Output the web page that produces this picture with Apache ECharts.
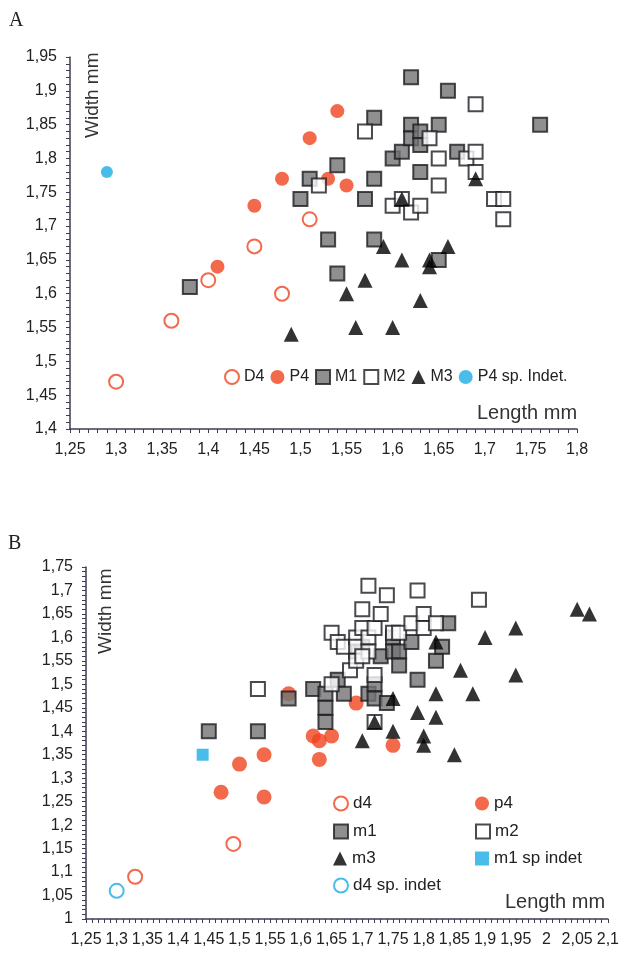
<!DOCTYPE html>
<html>
<head>
<meta charset="utf-8">
<script src="https://cdn.jsdelivr.net/npm/echarts@6/dist/echarts.min.js"></script>
<style>
html, body { margin: 0; padding: 0; background: #fff; }
#chart { width: 622px; height: 956px; }
</style>
</head>
<body>
<div id="chart"></div>
<script>
// panel A: [length, width]
const aD4 = [[1.30, 1.47], [1.36, 1.56], [1.40, 1.62], [1.45, 1.67], [1.48, 1.60], [1.51, 1.71]]
const aP4 = [[1.41, 1.64], [1.45, 1.73], [1.48, 1.77], [1.51, 1.83], [1.53, 1.77], [1.54, 1.87], [1.55, 1.76]]
const aM1 = [[1.38, 1.61], [1.50, 1.74], [1.51, 1.77], [1.53, 1.68], [1.54, 1.79], [1.54, 1.63], [1.57, 1.74],
  [1.58, 1.86], [1.58, 1.77], [1.58, 1.68], [1.60, 1.80], [1.61, 1.81], [1.62, 1.92], [1.62, 1.85], [1.62, 1.83],
  [1.63, 1.84], [1.63, 1.82], [1.63, 1.78], [1.65, 1.85], [1.65, 1.65], [1.66, 1.90], [1.67, 1.81], [1.76, 1.85]]
const aM2 = [[1.52, 1.76], [1.57, 1.84], [1.60, 1.73], [1.61, 1.74], [1.62, 1.72], [1.63, 1.73], [1.64, 1.83],
  [1.65, 1.80], [1.65, 1.76], [1.68, 1.80], [1.69, 1.88], [1.69, 1.81], [1.69, 1.78], [1.71, 1.74], [1.72, 1.74], [1.72, 1.71]]
const aM3 = [[1.49, 1.54], [1.55, 1.60], [1.56, 1.55], [1.57, 1.62], [1.59, 1.67], [1.60, 1.55], [1.61, 1.74],
  [1.61, 1.65], [1.63, 1.59], [1.64, 1.65], [1.64, 1.64], [1.66, 1.67], [1.69, 1.77]]
const aP4Indet = [[1.29, 1.78]]

// panel B
const bD4 = [[1.33, 1.09], [1.49, 1.16]]
const bP4 = [[1.47, 1.27], [1.50, 1.33], [1.54, 1.35], [1.54, 1.26], [1.58, 1.48], [1.62, 1.39], [1.63, 1.38],
  [1.65, 1.39], [1.63, 1.34], [1.69, 1.46], [1.75, 1.37]]
const bM1 = [[1.45, 1.40], [1.53, 1.40], [1.58, 1.47], [1.62, 1.49], [1.64, 1.48], [1.64, 1.45], [1.64, 1.42],
  [1.66, 1.51], [1.67, 1.48], [1.69, 1.57], [1.70, 1.58], [1.71, 1.48], [1.72, 1.50], [1.72, 1.47], [1.73, 1.56],
  [1.74, 1.46], [1.75, 1.60], [1.75, 1.57], [1.76, 1.57], [1.76, 1.54], [1.78, 1.59], [1.79, 1.51], [1.82, 1.55],
  [1.83, 1.58], [1.84, 1.63]]
const bM2 = [[1.53, 1.49], [1.65, 1.50], [1.68, 1.53], [1.72, 1.52], [1.72, 1.42], [1.65, 1.61], [1.66, 1.59],
  [1.67, 1.58], [1.69, 1.60], [1.69, 1.58], [1.69, 1.55], [1.70, 1.62], [1.70, 1.66], [1.71, 1.71], [1.71, 1.60],
  [1.71, 1.57], [1.70, 1.56], [1.72, 1.62], [1.73, 1.65], [1.74, 1.69], [1.75, 1.61], [1.76, 1.61], [1.78, 1.63],
  [1.79, 1.70], [1.80, 1.65], [1.80, 1.62], [1.82, 1.63], [1.89, 1.68]]
const bM3 = [[1.70, 1.38], [1.72, 1.42], [1.75, 1.47], [1.75, 1.40], [1.79, 1.44], [1.80, 1.39], [1.80, 1.37],
  [1.82, 1.48], [1.82, 1.43], [1.82, 1.59], [1.85, 1.35], [1.86, 1.53], [1.88, 1.48], [1.90, 1.60], [1.95, 1.62],
  [1.95, 1.52], [2.05, 1.66], [2.07, 1.65]]
const bM1Indet = [[1.44, 1.35]]
const bD4Indet = [[1.30, 1.06]]

const RED = '#f0431f'
const CYAN = '#1cade4'
const GREY = '#737373'
const EDGE = '#1b1b22'
const AXIS = '#3c3c52'
const FONT = '"Liberation Sans Narrow", "Arial Narrow", "Liberation Sans", Arial, sans-serif'

const fmt = v => String(+v.toFixed(2)).replace('.', ',')

function valueAxis(gridIndex, min, max) {
  return {
    type: 'value',
    gridIndex: gridIndex,
    min: min,
    max: max,
    interval: 0.05,
    splitLine: { show: false },
    axisLine: { show: true, onZero: false, lineStyle: { color: AXIS, width: 1.5 } },
    axisTick: { show: true, length: 4, lineStyle: { color: AXIS } },
    minorTick: { show: true, splitNumber: 5, length: 4, lineStyle: { color: AXIS } },
    axisLabel: { color: '#222', fontSize: 16, fontFamily: FONT, margin: 13, formatter: fmt }
  }
}

function points(name, data, xi, symbol, size, style) {
  return {
    name: name,
    type: 'scatter',
    xAxisIndex: xi,
    yAxisIndex: xi,
    symbol: symbol,
    symbolSize: size,
    itemStyle: style,
    data: data
  }
}

const openRed = { color: '#fff', borderColor: RED, borderWidth: 2 }
const fillRed = { color: RED }
const greySq = { color: GREY, borderColor: EDGE, borderWidth: 2 }
const openSq = { color: '#fff', borderColor: EDGE, borderWidth: 2 }
const tri = { color: '#000' }

const legText = { fontSize: 17, fontFamily: FONT, color: '#222' }
function bLegend(name, left, top) {
  return {
    data: [name], left: left, top: top, itemWidth: 14, itemHeight: 14, padding: 0,
    itemGap: 4, textStyle: legText, selectedMode: false
  }
}

const chart = echarts.init(document.getElementById('chart'))
chart.setOption({
  animation: false,
  backgroundColor: '#fff',
  grid: [
    { left: 70, top: 57, right: 45, bottom: 527 },
    { left: 86, top: 567, right: 11, bottom: 37 }
  ],
  xAxis: [valueAxis(0, 1.25, 1.8), valueAxis(1, 1.25, 2.1)],
  yAxis: [valueAxis(0, 1.4, 1.95), valueAxis(1, 1, 1.75)],
  legend: [
    {
      data: ['D4', 'P4', 'M1', 'M2', 'M3', 'P4 sp. Indet.'],
      left: 224, top: 369, itemWidth: 14, itemHeight: 14, itemGap: 6, padding: 0,
      textStyle: { fontSize: 16, fontFamily: FONT, color: '#222' }, selectedMode: false
    },
    bLegend('d4', 333, 795),
    bLegend('p4', 475, 795),
    bLegend('m1', 333, 823),
    bLegend('m2', 475, 823),
    bLegend('m3', 333, 850),
    bLegend('m1 sp indet', 475, 850),
    bLegend('d4 sp. indet', 333, 877)
  ],
  graphic: [
    { type: 'text', left: 9, top: 11, style: { text: 'A', fontSize: 20, fontFamily: '"Liberation Serif", serif', fill: '#222' } },
    { type: 'text', left: 8, top: 534, style: { text: 'B', fontSize: 20, fontFamily: '"Liberation Serif", serif', fill: '#222' } },
    { type: 'text', x: 83, y: 138, rotation: Math.PI / 2, style: { text: 'Width mm', fontSize: 19, fontFamily: FONT, fill: '#333' } },
    { type: 'text', x: 96, y: 654, rotation: Math.PI / 2, style: { text: 'Width mm', fontSize: 19, fontFamily: FONT, fill: '#333' } },
    { type: 'text', x: 477, y: 403, style: { text: 'Length mm', fontSize: 20, fontFamily: FONT, fill: '#333' } },
    { type: 'text', x: 505, y: 892, style: { text: 'Length mm', fontSize: 20, fontFamily: FONT, fill: '#333' } }
  ],
  series: [
    points('D4', aD4, 0, 'circle', 14, openRed),
    points('P4', aP4, 0, 'circle', 14, fillRed),
    points('M1', aM1, 0, 'rect', 14, greySq),
    points('M2', aM2, 0, 'rect', 14, openSq),
    points('M3', aM3, 0, 'triangle', 15, tri),
    points('P4 sp. Indet.', aP4Indet, 0, 'circle', 12, { color: CYAN }),
    points('d4', bD4, 1, 'circle', 14, openRed),
    points('p4', bP4, 1, 'circle', 15, fillRed),
    points('m1', bM1, 1, 'rect', 14, greySq),
    points('m2', bM2, 1, 'rect', 14, openSq),
    points('m3', bM3, 1, 'triangle', 15, tri),
    points('m1 sp indet', bM1Indet, 1, 'rect', 12, { color: CYAN }),
    points('d4 sp. indet', bD4Indet, 1, 'circle', 14, { color: '#fff', borderColor: CYAN, borderWidth: 2 })
  ]
})
</script>
</body>
</html>
